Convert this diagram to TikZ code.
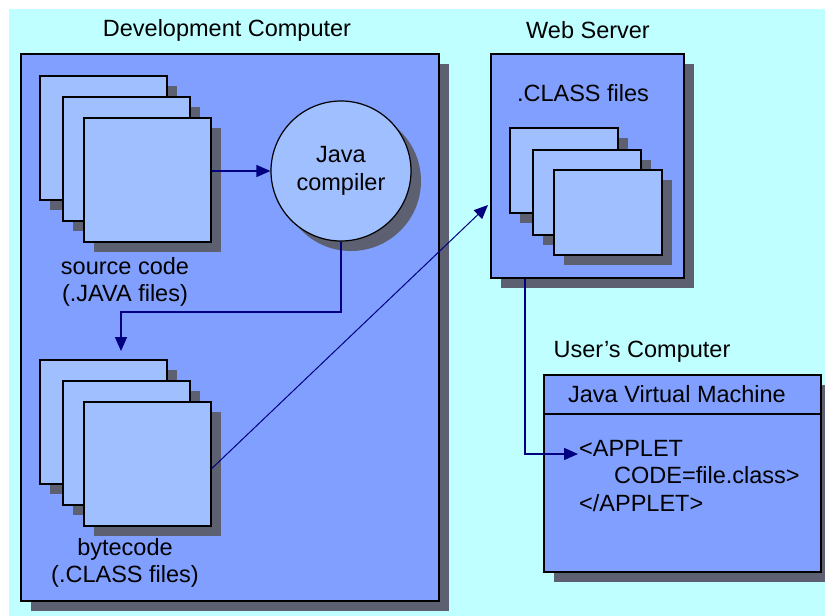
\documentclass[tikz,border=0pt]{standalone}
\usepackage{fontspec}
\setmainfont{Liberation Sans}
\usetikzlibrary{shadows,arrows.meta,calc}
\definecolor{bgcyan}{HTML}{C0FFFF}
\definecolor{boxblue}{HTML}{809FFF}
\definecolor{pageblue}{HTML}{A0BFFF}
\definecolor{shadowgray}{HTML}{5C6070}
\definecolor{navy}{HTML}{000080}
\begin{document}
\begin{tikzpicture}[x=1pt,y=-1pt,
  shade/.style={drop shadow={shadow xshift=10pt,shadow yshift=-10pt,fill=shadowgray,opacity=1}},
  box/.style={draw=black,line width=1.5pt,fill=boxblue,shade,inner sep=0pt,anchor=north west},
  page/.style={draw=black,line width=1.5pt,fill=pageblue,shade,inner sep=0pt,anchor=north west,minimum width=127pt,minimum height=124pt},
  wpage/.style={page,minimum width=108pt,minimum height=85pt},
  lbl/.style={font=\fontsize{23.5}{27.5}\selectfont,align=center,inner sep=0pt},
  conn/.style={draw=navy,line width=1.5pt,-{Triangle[length=14pt,width=12pt]}},
  thinconn/.style={conn,line width=1pt},
]
\useasboundingbox (0,0) rectangle (825,616);
\fill[white] (0,0) rectangle (825,616);
\fill[bgcyan] (9,9) rectangle (825,616);

% Development computer
\node[lbl] (devtitle) at (227,30) {Development Computer};
\node[box,minimum width=418pt,minimum height=547pt] (dev) at (20,53) {};
\node[page] (src1) at (39,75) {};
\node[page] (src2) at (62,96) {};
\node[page] (src3) at (83,117) {};
\node[lbl] (srclbl) at (125,282) {source code\\(.JAVA files)};
\node[circle,draw=black,line width=1.2pt,fill=pageblue,shade,minimum size=140pt,inner sep=0pt,lbl] (comp) at (341,171) {Java\\compiler};
\node[page] (bc1) at (39,359) {};
\node[page] (bc2) at (62,380) {};
\node[page] (bc3) at (83,401) {};
\node[lbl] (bclbl) at (125,563) {bytecode\\(.CLASS files)};

% Web server
\node[lbl] (wstitle) at (588,30) {Web Server};
\node[box,minimum width=193pt,minimum height=224pt] (ws) at (490,53) {};
\node[lbl] (wslbl) at (583,93) {.CLASS files};
\node[wpage] (wp1) at (509,127) {};
\node[wpage] (wp2) at (532,149) {};
\node[wpage] (wp3) at (553,169) {};

% User's computer
\node[lbl] (ustitle) at (642,352) {User's Computer};
\node[box,minimum width=277pt,minimum height=197pt] (jvm) at (543,374) {};
\coordinate (divy) at (0,414);
\draw[line width=1.5pt] (jvm.west |- divy) -- (jvm.east |- divy);
\node[lbl] (jvmlbl) at (677,394) {Java Virtual Machine};
\node[lbl,align=left,anchor=north west] (code) at (579,440) {<APPLET\\\hspace*{35pt}CODE=file.class>\\</APPLET>};

% connectors
\draw[conn] (src3.east |- comp.west) -- (comp.west);
\coordinate (bendA) at (121,312);
\coordinate (tipA) at (121,351);
\draw[conn] (comp.south) |- (bendA) -- (tipA);
\coordinate (tipB) at (488,205);
\draw[thinconn] ([yshift=-5pt]bc3.east) -- (tipB);
\coordinate (tipC) at (578,454);
\draw[conn] ([xshift=-62.5pt]ws.south) |- (tipC);
\end{tikzpicture}
\end{document}
